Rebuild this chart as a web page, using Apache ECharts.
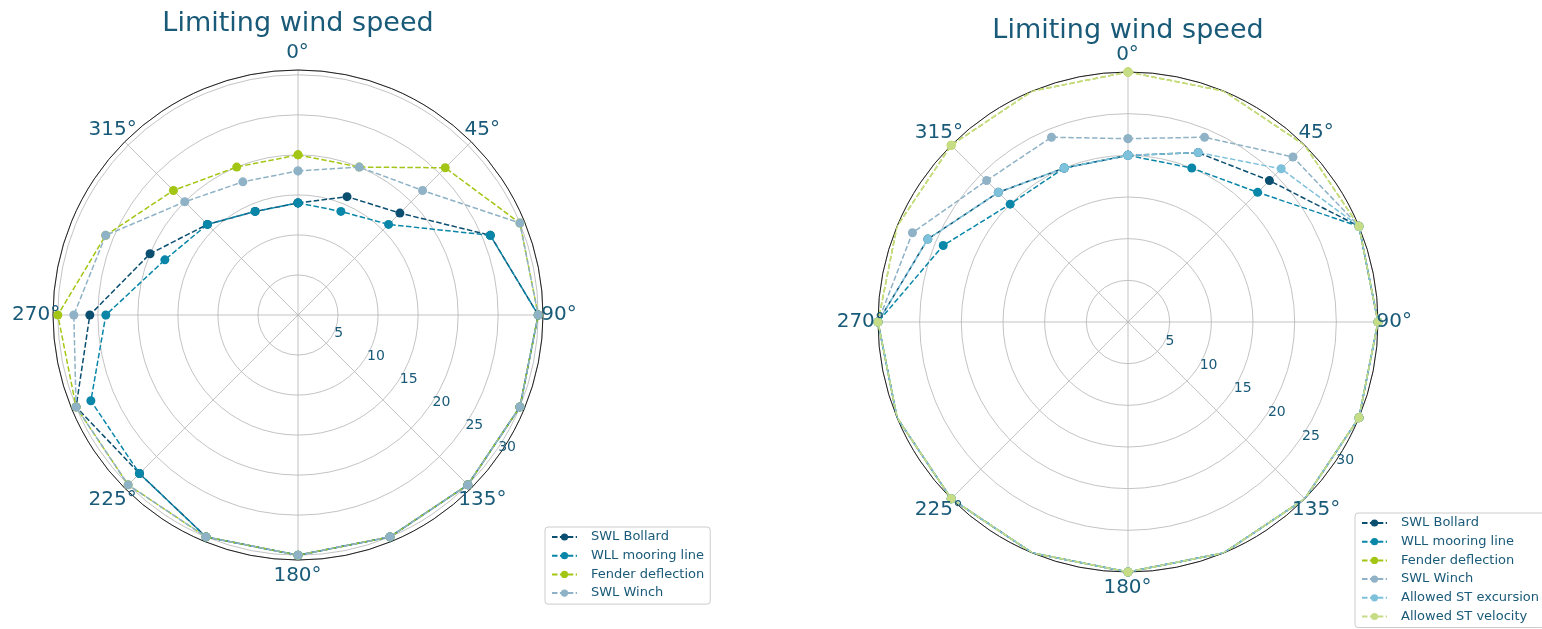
<!DOCTYPE html>
<html>
<head>
<meta charset="utf-8">
<script src="https://cdn.jsdelivr.net/npm/echarts@6/dist/echarts.min.js"></script>
<style>
  html, body { margin: 0; padding: 0; background: #ffffff; }
  #chart { width: 1542px; height: 629px; }
</style>
</head>
<body>
<div id="chart"></div>
<script>
// Wind directions (degrees, clockwise from north) at which limits were evaluated
const directions = [0, 22.5, 45, 67.5, 90, 112.5, 135, 157.5, 180, 202.5, 225, 247.5, 270, 292.5, 315, 337.5];
const angleTicks = [0, 45, 90, 135, 180, 225, 270, 315];
const radialTicks = [5, 10, 15, 20, 25, 30];

// Left panel: limiting wind speed per criterion
const leftSwlBollard   = [14, 16, 18, 26, 30, 30, 30, 30, 30, 30, 28, 30, 26, 20, 16, 14];
const leftWllMooring   = [14, 14, 16, 26, 30, 30, 30, 30, 30, 30, 28, 28, 24, 18, 16, 14];
const leftFender       = [20, 20, 26, 30, 30, 30, 30, 30, 30, 30, 30, 30, 30, 26, 22, 20];
const leftSwlWinch     = [18, 20, 22, 30, 30, 30, 30, 30, 30, 30, 30, 30, 28, 26, 20, 18];

// Right panel: limiting wind speed per criterion
const rightSwlBollard  = [20, 22, 24, 30, 30, 30, 30, 30, 30, 30, 30, 30, 30, 26, 22, 20];
const rightWllMooring  = [20, 20, 22, 30, 30, 30, 30, 30, 30, 30, 30, 30, 30, 24, 20, 20];
const rightFender      = [30, 30, 30, 30, 30, 30, 30, 30, 30, 30, 30, 30, 30, 30, 30, 30];
const rightSwlWinch    = [22, 24, 28, 30, 30, 30, 30, 30, 30, 30, 30, 30, 30, 28, 24, 24];
const rightStExcursion = [20, 22, 26, 30, 30, 30, 30, 30, 30, 30, 30, 30, 30, 26, 22, 20];
const rightStVelocity  = [30, 30, 30, 30, 30, 30, 30, 30, 30, 30, 30, 30, 30, 30, 30, 30];

const names = ['SWL Bollard', 'WLL mooring line', 'Fender deflection', 'SWL Winch',
               'Allowed ST excursion', 'Allowed ST velocity'];
const colors = ['#0a4e70', '#0986a8', '#a3c614', '#8fb2c6', '#7ec1da', '#c6dd86'];

const leftSets  = [leftSwlBollard, leftWllMooring, leftFender, leftSwlWinch];
const rightSets = [rightSwlBollard, rightWllMooring, rightFender, rightSwlWinch,
                   rightStExcursion, rightStVelocity];

const FONT = '"DejaVu Sans", "Liberation Sans", sans-serif';
const TEXT = '#195a78';
const GRID = '#b4b4b4';
const COMPASS_PAD = 1.067; // compass labels sit just outside the rim, centred on their direction

const panels = [
  { center: [298, 315], radius: 245, rmax: 30.6, sets: leftSets,  titleY: 24 },
  { center: [1128, 322], radius: 250, rmax: 30,  sets: rightSets, titleY: 31 }
];

const polar = [], angleAxis = [], radiusAxis = [], series = [], graphic = [];

panels.forEach((p, k) => {
  const dataIdx = 2 * k, labelIdx = 2 * k + 1;
  // polar carrying the data and the grid
  polar.push({ center: p.center, radius: p.radius });
  angleAxis.push({
    polarIndex: dataIdx, type: 'value', min: 0, max: 360, interval: 45,
    startAngle: 90, clockwise: true,
    axisLine: { show: true, lineStyle: { color: '#222', width: 1 } },
    axisTick: { show: false },
    axisLabel: { show: false },
    splitLine: { show: true, lineStyle: { color: GRID, width: 0.8 } }
  });
  radiusAxis.push({
    polarIndex: dataIdx, type: 'value', min: 0, max: p.rmax, interval: 5,
    axisLine: { show: false }, axisTick: { show: false }, axisLabel: { show: false },
    splitLine: { show: true, lineStyle: { color: GRID, width: 0.8 } }
  });
  // overlay polar whose radius axis runs toward the lower right, carrying the speed labels
  polar.push({ center: p.center, radius: p.radius });
  angleAxis.push({
    polarIndex: labelIdx, type: 'value', min: 0, max: 360, startAngle: -35, show: false
  });
  radiusAxis.push({
    polarIndex: labelIdx, type: 'value', min: 0, max: p.rmax, interval: 5,
    axisLine: { show: false }, axisTick: { show: false }, splitLine: { show: false },
    axisLabel: {
      margin: 6, fontSize: 14, fontFamily: FONT, color: TEXT,
      formatter: v => (radialTicks.indexOf(v) >= 0 ? String(v) : '')
    }
  });

  p.sets.forEach((vals, i) => {
    const pts = vals.map((v, j) => [v, directions[j]]);
    pts.push([vals[0], 360]); // close the loop back to north
    series.push({
      name: names[i], type: 'line', coordinateSystem: 'polar', polarIndex: dataIdx,
      data: pts, symbol: 'circle', symbolSize: 9, showAllSymbol: true,
      color: colors[i],
      itemStyle: { color: colors[i] },
      lineStyle: { color: colors[i], width: 1.5, type: [5.5, 2.4] },
      z: 2 + i, animation: false, silent: true
    });
  });

  // compass direction labels, centred just outside the rim
  series.push({
    type: 'scatter', coordinateSystem: 'polar', polarIndex: dataIdx, clip: false,
    data: angleTicks.map(a => [p.rmax * COMPASS_PAD, a]),
    symbol: 'circle', symbolSize: 1, itemStyle: { color: '#ffffff', opacity: 0 },
    silent: true, z: 20, animation: false,
    label: {
      show: true, position: [0, 0], align: 'center', verticalAlign: 'middle',
      fontSize: 20, fontFamily: FONT, color: TEXT, opacity: 1,
      textBorderWidth: 0, textShadowBlur: 0,
      formatter: prm => prm.value[1] + '°'
    }
  });

  graphic.push({
    type: 'text', x: p.center[0], y: p.titleY,
    style: { text: 'Limiting wind speed', fontSize: 27, fontFamily: FONT, fill: TEXT,
             align: 'center', verticalAlign: 'middle' }
  });
});

const legendBase = {
  orient: 'vertical', itemWidth: 25, itemHeight: 9, itemGap: 4.7,
  padding: [3, 6, 4, 6], backgroundColor: '#ffffff',
  borderColor: '#cccccc', borderWidth: 1, borderRadius: 3,
  textStyle: { fontSize: 13, fontFamily: FONT, color: TEXT, lineHeight: 14, padding: [0, 0, 0, 9] },
  selectedMode: false
};

const option = {
  backgroundColor: '#ffffff',
  animation: false,
  polar, angleAxis, radiusAxis, series, graphic,
  legend: [
    Object.assign({}, legendBase, { left: 545, top: 527, data: names.slice(0, 4) }),
    Object.assign({}, legendBase, { left: 1355, top: 513, data: names.slice(0, 6) })
  ]
};

const chart = echarts.init(document.getElementById('chart'), null, { renderer: 'canvas' });
chart.setOption(option);
</script>
</body>
</html>
